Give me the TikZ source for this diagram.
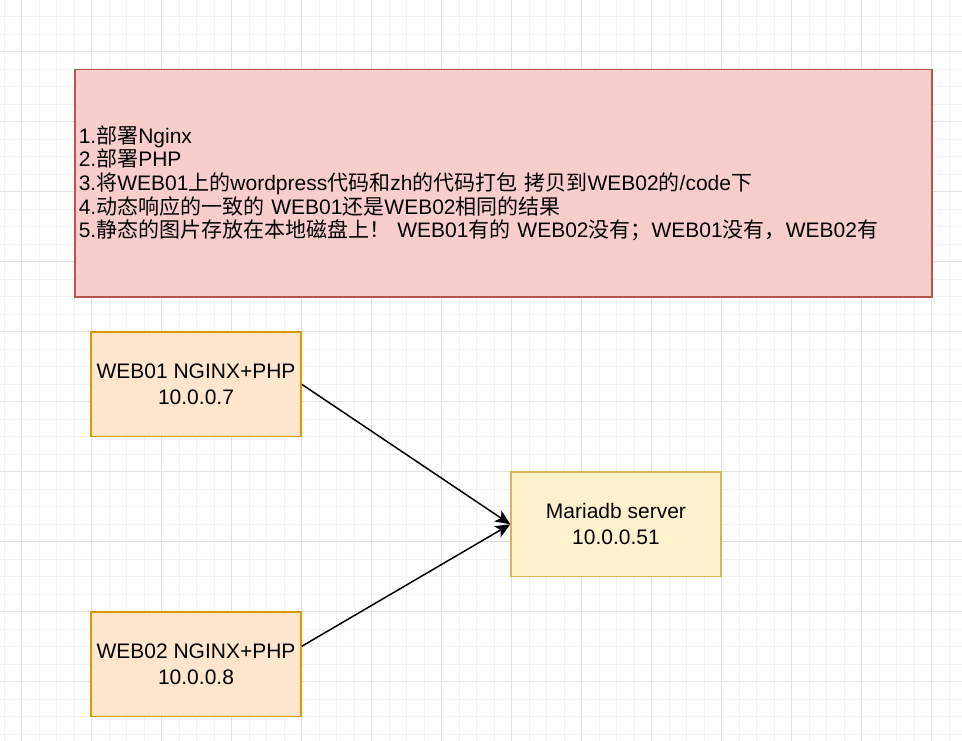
\documentclass[tikz,border=0pt]{standalone}
\usepackage{fontspec}
\setmainfont{Liberation Sans}
\newfontfamily\cjk{Noto Sans CJK SC}
\usetikzlibrary{arrows.meta}
\definecolor{notefill}{HTML}{F8CECC}
\definecolor{notedraw}{HTML}{B85450}
\definecolor{webfill}{HTML}{FFE6CC}
\definecolor{webdraw}{HTML}{D79B00}
\definecolor{dbfill}{HTML}{FFF2CC}
\definecolor{dbdraw}{HTML}{D6B656}
\definecolor{gridminor}{HTML}{F2F2F2}
\definecolor{gridmajor}{HTML}{E2E2E2}
\newcommand{\zh}[1]{{\cjk #1}}
\tikzset{
  minorgrid/.style={draw=gridminor, line width=1pt},
  majorgrid/.style={draw=gridmajor, line width=1pt},
  notebox/.style={draw=notedraw, fill=notefill, line width=1.5pt, anchor=north west,
    text width=849pt, inner xsep=4pt, inner ysep=0pt, minimum height=227pt, align=left,
    font=\fontsize{21}{23.7}\selectfont},
  serverbox/.style={line width=1.5pt, minimum width=210pt, minimum height=104.7pt,
    align=center, inner sep=0pt, font=\fontsize{21}{25.7}\selectfont},
  webbox/.style={serverbox, draw=webdraw, fill=webfill},
  dbbox/.style={serverbox, draw=dbdraw, fill=dbfill},
  link/.style={line width=1.5pt, -{Stealth[length=15pt,width=13pt,inset=4pt]}}
}
\begin{document}
\begin{tikzpicture}[x=1pt,y=-1pt]
\useasboundingbox (0,0) rectangle (962,741);
\fill[white] (0,0) rectangle (962,741);
% grid
\foreach \x in {4.2,21.7,...,962} \draw[minorgrid] (\x,0) -- (\x,741);
\foreach \y in {16.7,34.2,...,741} \draw[minorgrid] (0,\y) -- (962,\y);
\foreach \x in {21.7,91.7,...,962} \draw[majorgrid] (\x,0) -- (\x,741);
\foreach \y in {51.7,121.7,...,741} \draw[majorgrid] (0,\y) -- (962,\y);
% note
\node[notebox] (note) at (74,69) {%
1.\zh{部署}Nginx\\
2.\zh{部署}PHP\\
3.\zh{将}WEB01\zh{上的}wordpress\zh{代码和}zh\zh{的代码打包} \zh{拷贝到}WEB02\zh{的}/code\zh{下}\\
4.\zh{动态响应的一致的} WEB01\zh{还是}WEB02\zh{相同的结果}\\
5.\zh{静态的图片存放在本地磁盘上！} WEB01\zh{有的} WEB02\zh{没有；}WEB01\zh{没有，}WEB02\zh{有}};
% servers
\node[webbox] (web01) at (196,384.3) {WEB01 NGINX+PHP\\10.0.0.7};
\node[webbox] (web02) at (196,664.3) {WEB02 NGINX+PHP\\10.0.0.8};
\node[dbbox] (db) at (616,524.3) {Mariadb server\\10.0.0.51};
% links
\draw[link] (web01.east) -- (db.west);
\draw[link] ([yshift=18pt]web02.east) -- (db.west);
\end{tikzpicture}
\end{document}
